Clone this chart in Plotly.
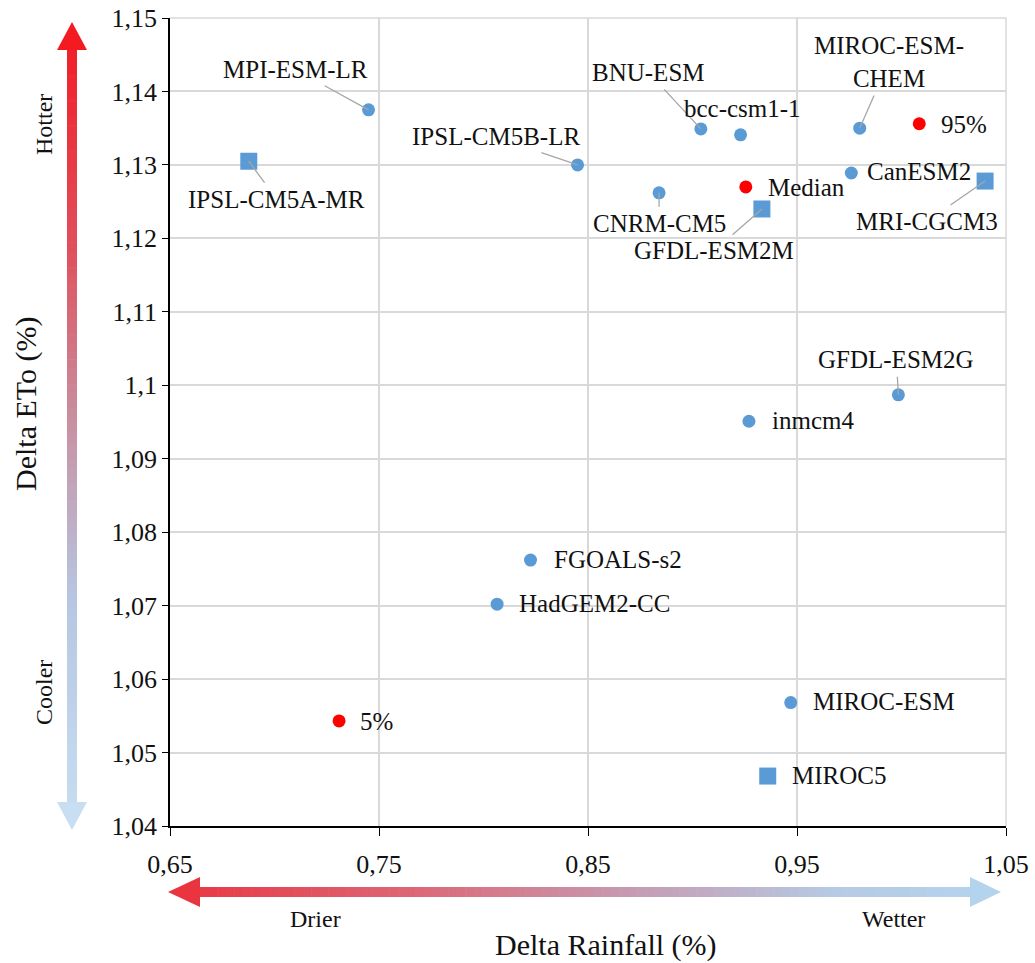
import plotly.graph_objects as go

# model results (delta rainfall, delta ETo)
models = ["MPI-ESM-LR", "IPSL-CM5B-LR", "BNU-ESM", "bcc-csm1-1", "MIROC-ESM-CHEM",
          "CanESM2", "CNRM-CM5", "GFDL-ESM2G", "inmcm4", "FGOALS-s2",
          "HadGEM2-CC", "MIROC-ESM"]
models_rain = [0.745, 0.845, 0.904, 0.923, 0.980, 0.976, 0.884, 0.9985, 0.927, 0.8225, 0.8065, 0.947]
models_eto = [1.1375, 1.1300, 1.1349, 1.1341, 1.1350, 1.1289, 1.1262, 1.0987, 1.0951, 1.0762, 1.0702, 1.0568]

# selected models (squares)
selected = ["IPSL-CM5A-MR", "GFDL-ESM2M", "MRI-CGCM3", "MIROC5"]
selected_rain = [0.6877, 0.9332, 1.0400, 0.9360]
selected_eto = [1.1305, 1.1240, 1.1278, 1.0468]

# ensemble percentiles (red)
pct = ["5%", "Median", "95%"]
pct_rain = [0.7309, 0.9255, 1.0085]
pct_eto = [1.0543, 1.1270, 1.1356]

x_ticks = [0.65, 0.75, 0.85, 0.95, 1.05]

FONT = "Liberation Serif, Tinos, DejaVu Serif, serif"
BLUE = "#5B9BD5"
RED = "#FF0000"
W, H = 1035, 963
L, R, T, B = 170, 29, 18, 137
PW, PH = W - L - R, H - T - B

# label placement in pixels: (mode, dx, dy) -- "line" = leader line, "top" = centred above, "right" = left-aligned after the marker
label_pos = {
    "MPI-ESM-LR": ("line", -73, -40),
    "IPSL-CM5B-LR": ("line", -82, -28),
    "BNU-ESM": ("line", -52, -56),
    "bcc-csm1-1": ("top", 2, -26),
    "MIROC-ESM-CHEM": ("line", 29, -66),
    "CanESM2": ("right", 14, -1),
    "CNRM-CM5": ("line", 0, 31),
    "GFDL-ESM2G": ("line", -2, -35),
    "inmcm4": ("right", 21, -1),
    "FGOALS-s2": ("right", 21, -1),
    "HadGEM2-CC": ("right", 20, -1),
    "MIROC-ESM": ("right", 20, -1),
    "IPSL-CM5A-MR": ("line", 28, 38),
    "GFDL-ESM2M": ("line", -48, 42),
    "MRI-CGCM3": ("line", -58, 40),
    "MIROC5": ("right", 22, -1),
    "5%": ("right", 19, 1),
    "Median": ("right", 20, 1),
    "95%": ("right", 20, 1),
}

fig = go.Figure()
fig.add_trace(go.Scatter(x=models_rain, y=models_eto, mode="markers", name="models",
                         marker=dict(color=BLUE, size=13, symbol="circle")))
fig.add_trace(go.Scatter(x=selected_rain, y=selected_eto, mode="markers", name="selected",
                         marker=dict(color=BLUE, size=17, symbol="square")))
fig.add_trace(go.Scatter(x=pct_rain, y=pct_eto, mode="markers", name="percentiles",
                         marker=dict(color=RED, size=13, symbol="circle")))

annotations = []
lab_font = dict(family=FONT, size=25, color="#111")
for names, xs, ys in [(models, models_rain, models_eto),
                      (selected, selected_rain, selected_eto),
                      (pct, pct_rain, pct_eto)]:
    for n, xv, yv in zip(names, xs, ys):
        mode, dx, dy = label_pos[n]
        text = "MIROC-ESM-<br>CHEM" if n == "MIROC-ESM-CHEM" else n
        if mode == "line":
            annotations.append(dict(x=xv, y=yv, text=text, showarrow=True, ax=dx, ay=dy,
                                    arrowhead=0, arrowwidth=1.3, arrowcolor="#a6a6a6",
                                    standoff=0, startstandoff=2, font=lab_font))
        else:
            annotations.append(dict(x=xv, y=yv, text=text, showarrow=False,
                                    xanchor="left" if mode == "right" else "center",
                                    yanchor="middle", xshift=dx, yshift=-dy, font=lab_font))


def px(X):
    return (X - L) / PW


def py(Y):
    return (H - B - Y) / PH


def lerp_color(stops, t):
    for (t0, c0), (t1, c1) in zip(stops[:-1], stops[1:]):
        if t0 <= t <= t1:
            f = (t - t0) / (t1 - t0) if t1 > t0 else 0
            a = [int(c0[i:i + 2], 16) for i in (1, 3, 5)]
            b = [int(c1[i:i + 2], 16) for i in (1, 3, 5)]
            return "rgb(%d,%d,%d)" % tuple(round(a[k] + (b[k] - a[k]) * f) for k in range(3))
    return stops[-1][1]


# grey frame on top and right edges of the plot area
shapes = [dict(type="path", xref="paper", yref="paper", path="M 0 1 L 1 1 L 1 0",
               line=dict(color="#d9d9d9", width=1.5))]
v_stops = [(0, "#f5141c"), (0.3, "#e0505c"), (0.5, "#c98e9e"), (0.72, "#b6c6e2"), (1, "#c8def2")]
h_stops = [(0, "#ea3440"), (0.3, "#dc6878"), (0.55, "#c69ab0"), (0.8, "#b6cae4"), (1, "#b4d4ee")]

# vertical arrow (Hotter / Cooler)
cx, top_tip, top_base, bot_base, bot_tip = 72, 22, 50, 802, 830
n = 90
for i in range(n):
    y0 = top_base + (bot_base - top_base) * i / n
    y1 = top_base + (bot_base - top_base) * (i + 1) / n + 0.6
    c = lerp_color(v_stops, (y0 + y1) / 2 / 830)
    shapes.append(dict(type="rect", xref="paper", yref="paper", x0=px(cx - 5), x1=px(cx + 5),
                       y0=py(y0), y1=py(y1), fillcolor=c, line=dict(width=0)))
for tip, base, t in [(top_tip, top_base, 0.03), (bot_tip, bot_base, 1)]:
    shapes.append(dict(type="path", xref="paper", yref="paper",
                       path="M %f %f L %f %f L %f %f Z" % (
                           px(cx), py(tip), px(cx + 15), py(base), px(cx - 15), py(base)),
                       fillcolor=lerp_color(v_stops, t), line=dict(width=0)))

# horizontal arrow (Drier / Wetter)
cy, l_tip, l_base, r_base, r_tip = 892, 168, 200, 970, 1001
for i in range(n):
    x0 = l_base + (r_base - l_base) * i / n
    x1 = l_base + (r_base - l_base) * (i + 1) / n + 0.6
    c = lerp_color(h_stops, ((x0 + x1) / 2 - l_tip) / (r_tip - l_tip))
    shapes.append(dict(type="rect", xref="paper", yref="paper", x0=px(x0), x1=px(x1),
                       y0=py(cy - 5), y1=py(cy + 5), fillcolor=c, line=dict(width=0)))
for tip, base, t in [(l_tip, l_base, 0), (r_tip, r_base, 1)]:
    shapes.append(dict(type="path", xref="paper", yref="paper",
                       path="M %f %f L %f %f L %f %f Z" % (
                           px(tip), py(cy), px(base), py(cy - 15), px(base), py(cy + 15)),
                       fillcolor=lerp_color(h_stops, t), line=dict(width=0)))

# side labels
side = dict(xref="paper", yref="paper", showarrow=False, xanchor="center", yanchor="middle")
small = dict(family=FONT, size=24, color="#111")
big = dict(family=FONT, size=30, color="#111")
annotations += [
    dict(text="Hotter", x=px(44), y=py(124), textangle=-90, font=small, **side),
    dict(text="Cooler", x=px(44), y=py(692), textangle=-90, font=small, **side),
    dict(text="Delta ETo (%)", x=px(26), y=py(404), textangle=-90, font=big, **side),
    dict(text="Drier", x=px(315), y=py(919), font=small, **side),
    dict(text="Wetter", x=px(893), y=py(919), font=small, **side),
    dict(text="Delta Rainfall (%)", x=px(606), y=py(945), font=big, **side),
]

fig.update_layout(
    width=W, height=H,
    margin=dict(l=L, r=R, t=T, b=B, autoexpand=False),
    plot_bgcolor="white", paper_bgcolor="white",
    showlegend=False,
    separators=", ",
    font=dict(family=FONT, size=24, color="#111"),
    shapes=shapes,
    annotations=annotations,
)
fig.update_xaxes(range=[0.65, 1.05], tickvals=x_ticks, showgrid=True, gridcolor="#d9d9d9", gridwidth=1.5,
                 showline=True, linecolor="black", linewidth=1.5, ticks="outside", ticklen=8,
                 ticklabelstandoff=6,
                 tickcolor="black", zeroline=False, automargin=False, tickfont=dict(family=FONT, size=26))
fig.update_yaxes(range=[1.04, 1.15], dtick=0.01, tick0=1.04, showgrid=True, gridcolor="#d9d9d9", gridwidth=1.5,
                 showline=True, linecolor="black", linewidth=1.5, ticks="outside", ticklen=6,
                 tickcolor="black", zeroline=False, automargin=False, tickfont=dict(family=FONT, size=26))

fig.write_html("out.html", config={"displayModeBar": False},
               post_script="document.body.style.margin='0';")
